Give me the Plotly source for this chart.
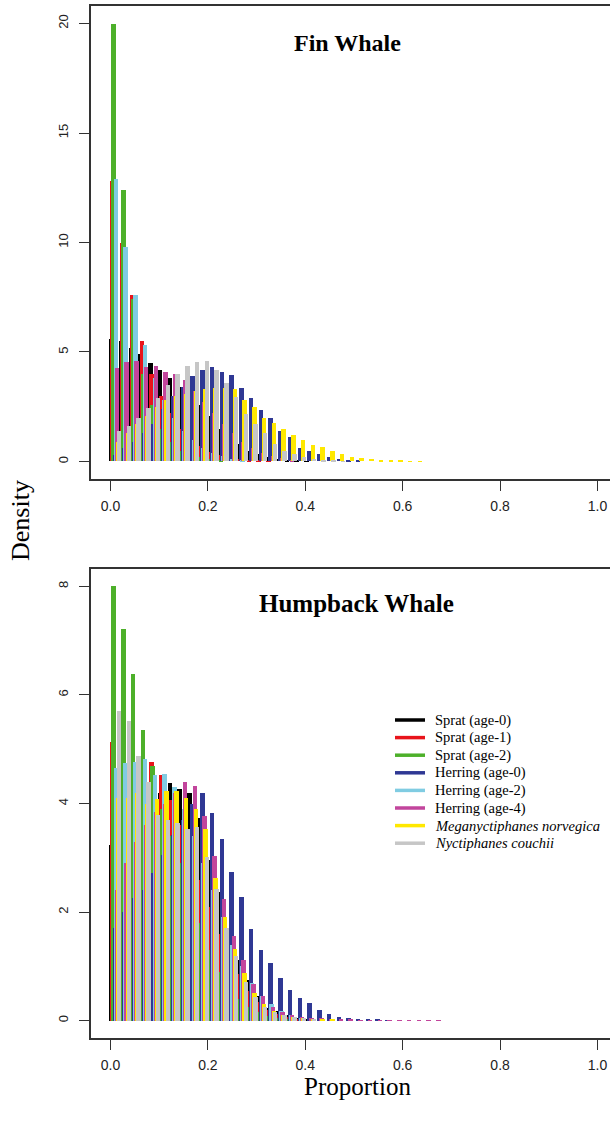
import plotly.graph_objects as go

# ---------------- data ----------------
BINS = [0.00, 0.02, 0.04, 0.06, 0.08, 0.10, 0.12, 0.14, 0.16, 0.18,
        0.20, 0.22, 0.24, 0.26, 0.28, 0.30, 0.32, 0.34, 0.36, 0.38,
        0.40, 0.42, 0.44, 0.46, 0.48, 0.50, 0.52, 0.54, 0.56, 0.58,
        0.60, 0.62, 0.64, 0.66]

SERIES = ["Sprat (age-0)", "Sprat (age-1)", "Sprat (age-2)", "Herring (age-0)",
          "Herring (age-2)", "Herring (age-4)", "<i>Meganyctiphanes norvegica</i>",
          "<i>Nyctiphanes couchii</i>"]
COLORS = ["#000000", "#E8141B", "#4DB02A", "#2F3894", "#80CCE2", "#C2459C", "#FFE800", "#C6C6C6"]

# Fin whale densities
FIN_SPRAT0 = [5.6, 5.5, 5.2, 4.9, 4.5, 4.2, 3.8, 3.4, 3.0, 2.6, 2.1, 1.5, 1.1, 0.8, 0.5, 0.33, 0.2, 0.12, 0.07, 0.04, 0.02]
FIN_SPRAT1 = [12.8, 10.0, 7.6, 5.5, 4.0, 3.0, 2.2, 1.5, 1.0, 0.7, 0.45, 0.3, 0.2, 0.12, 0.07, 0.04, 0.02]
FIN_SPRAT2 = [20.0, 12.4, 7.4, 4.0, 2.6, 1.5, 0.9, 0.5, 0.3, 0.2, 0.1, 0.05]
FIN_HERR0 = [0.3, 0.6, 0.9, 1.3, 1.7, 2.4, 3.0, 3.4, 3.9, 4.2, 4.3, 4.1, 3.95, 3.35, 2.9, 2.35, 2.0, 1.4, 1.1, 0.62, 0.5, 0.32, 0.2, 0.12, 0.06, 0.03]
FIN_HERR2 = [12.9, 9.8, 7.6, 5.3, 3.8, 2.8, 2.0, 1.4, 1.0, 0.6, 0.4, 0.25, 0.12, 0.06]
FIN_HERR4 = [4.26, 4.53, 4.6, 4.3, 4.34, 4.1, 4.0, 3.7, 3.2, 2.7, 2.2, 1.7, 1.3, 0.9, 0.6, 0.4, 0.25, 0.15, 0.08]
FIN_MEGA = [0.9, 1.3, 1.7, 2.1, 2.5, 2.8, 3.0, 3.1, 3.2, 3.3, 3.35, 3.35, 3.3, 2.8, 2.5, 2.0, 1.78, 1.5, 1.23, 1.0,
            0.77, 0.64, 0.5, 0.33, 0.22, 0.14, 0.1, 0.06, 0.04, 0.03, 0.02, 0.01]
FIN_NYCT = [1.37, 1.6, 1.98, 2.43, 2.9, 3.5, 4.0, 4.38, 4.56, 4.6, 4.2, 3.58, 2.94, 2.16, 1.7, 1.29, 0.79, 0.5, 0.33, 0.2, 0.12, 0.07, 0.04, 0.02]

# Humpback whale densities
HB_SPRAT0 = [3.24, 3.3, 3.5, 3.7, 3.9, 4.19, 4.37, 4.26, 4.2, 3.73, 2.96, 2.37, 1.64, 1.12, 0.75, 0.45, 0.23, 0.17, 0.1, 0.05, 0.03]
HB_SPRAT1 = [5.13, 4.9, 4.9, 4.85, 4.77, 4.52, 4.06, 3.6, 3.1, 2.6, 2.1, 1.6, 1.2, 0.85, 0.55, 0.35, 0.2, 0.12, 0.06, 0.03]
HB_SPRAT2 = [8.0, 7.21, 6.38, 5.35, 4.69, 3.9, 3.4, 2.9, 2.3, 1.8, 1.3, 0.9, 0.6, 0.4, 0.25, 0.15, 0.08, 0.04, 0.02]
HB_HERR0 = [1.7, 2.0, 2.26, 2.4, 2.72, 3.05, 3.42, 3.7, 4.0, 4.2, 3.82, 3.34, 2.74, 2.27, 1.69, 1.3, 1.06, 0.78, 0.56, 0.42,
            0.32, 0.2, 0.12, 0.07, 0.04, 0.03, 0.02, 0.02, 0.01]
HB_HERR2 = [4.65, 4.75, 4.77, 4.82, 4.52, 4.54, 4.31, 3.9, 3.4, 2.9, 2.4, 1.9, 1.4, 1.0, 0.7, 0.45, 0.3, 0.18, 0.1, 0.05]
HB_HERR4 = [2.4, 2.9, 3.3, 3.6, 3.85, 4.0, 4.2, 4.4, 4.33, 3.77, 3.03, 2.24, 1.56, 1.12, 0.67, 0.45, 0.26, 0.16, 0.1, 0.07,
            0.05, 0.04, 0.03, 0.02, 0.02, 0.01, 0.01, 0.01, 0.01, 0.01, 0.01, 0.01, 0.01, 0.01]
HB_MEGA = [4.1, 4.1, 4.2, 4.0, 4.08, 4.23, 4.23, 4.1, 3.9, 3.53, 2.63, 1.9, 1.32, 0.87, 0.5, 0.3, 0.18, 0.1, 0.06, 0.04, 0.03, 0.02, 0.02]
HB_NYCT = [5.71, 5.52, 4.87, 4.4, 3.79, 3.69, 3.64, 3.53, 3.57, 3.02, 2.42, 1.71, 1.19, 0.72, 0.44, 0.26, 0.16, 0.1, 0.06, 0.04, 0.02]

X_TICKS = [0.0, 0.2, 0.4, 0.6, 0.8, 1.0]
X_TICKTEXT = ["0.0", "0.2", "0.4", "0.6", "0.8", "1.0"]
FIN_YTICKS = [0, 5, 10, 15, 20]
HB_YTICKS = [0, 2, 4, 6, 8]

FIN = [FIN_SPRAT0, FIN_SPRAT1, FIN_SPRAT2, FIN_HERR0, FIN_HERR2, FIN_HERR4, FIN_MEGA, FIN_NYCT]
HB = [HB_SPRAT0, HB_SPRAT1, HB_SPRAT2, HB_HERR0, HB_HERR2, HB_HERR4, HB_MEGA, HB_NYCT]

# ---------------- layout geometry ----------------
W, H = 610, 1122
ML, MR, MT, MB = 91, 0, 6, 84
PW = W - ML - MR
PH = H - MT - MB
STEP = 0.00225   # offset between series within a bin
BW = 0.0092      # bar width
BASE = 0.002


def py(p):
    return (H - MB - p) / PH


def pxx(p):
    return (p - ML) / PW


fig = go.Figure()
for vals_list, xa, ya in [(FIN, "x", "y"), (HB, "x2", "y2")]:
    for k, vals in enumerate(vals_list):
        fig.add_trace(go.Bar(
            x=BINS[:len(vals)], y=vals, width=BW, offset=BASE + k * STEP - BW / 2,
            marker=dict(color=COLORS[k], line=dict(width=0)),
            xaxis=xa, yaxis=ya, showlegend=False, name=SERIES[k]))

AX = "#333333"
xcommon = dict(range=[-0.04, 1.0257], tickvals=X_TICKS, ticktext=X_TICKTEXT,
               ticks="outside", ticklen=10, tickwidth=1.2, tickcolor=AX,
               showline=True, linecolor=AX, linewidth=1.5, mirror=True,
               showgrid=False, zeroline=False, ticklabelstandoff=3,
               tickfont=dict(family="Liberation Sans", size=14, color="#222222"))
ycommon = dict(ticks="outside", ticklen=10, tickwidth=1.2, tickcolor=AX,
               showline=True, linecolor=AX, linewidth=1.5, mirror=False,
               showgrid=False, zeroline=False, tickangle=-90, ticklabelstandoff=6,
               tickfont=dict(family="Liberation Sans", size=13, color="#222222"))

fig.update_layout(
    width=W, height=H, margin=dict(l=ML, r=MR, t=MT, b=MB),
    paper_bgcolor="white", plot_bgcolor="white", barmode="overlay", bargap=0,
    xaxis=dict(domain=[0, 1], anchor="y", **xcommon),
    yaxis=dict(domain=[py(479), 1], anchor="x", range=[-0.8, 20.8], tickvals=FIN_YTICKS, **ycommon),
    xaxis2=dict(domain=[0, 1], anchor="y2", **xcommon),
    yaxis2=dict(domain=[0, py(569)], anchor="x2", range=[-0.32, 8.32], tickvals=HB_YTICKS, **ycommon),
)

ann = []
serif = "Liberation Serif"
common = dict(xref="paper", yref="paper", showarrow=False, xanchor="center", yanchor="middle")
ann.append(dict(text="<b>Fin Whale</b>", x=pxx(347), y=py(43),
                font=dict(family=serif, size=24, color="#000"), **common))
ann.append(dict(text="<b>Humpback Whale</b>", x=pxx(356), y=py(604),
                font=dict(family=serif, size=25, color="#000"), **common))
ann.append(dict(text="Density", x=pxx(20), y=py(521), textangle=-90,
                font=dict(family=serif, size=26, color="#000"), **common))
ann.append(dict(text="Proportion", x=pxx(357), y=py(1086),
                font=dict(family=serif, size=25, color="#000"), **common))

shapes = []
for i, (name, col) in enumerate(zip(SERIES, COLORS)):
    yy = py(720 + 17.6 * i)
    shapes.append(dict(type="line", xref="paper", yref="paper", x0=pxx(395), x1=pxx(425),
                       y0=yy, y1=yy, line=dict(color=col, width=3.5)))
    ann.append(dict(text=name, x=pxx(433), y=yy, xref="paper", yref="paper", xanchor="left",
                    yanchor="middle", showarrow=False,
                    font=dict(family=serif, size=14.5, color="#000")))

fig.update_layout(annotations=ann, shapes=shapes)
fig.write_html("out.html", config={"displayModeBar": False},
               post_script="document.body.style.margin='0';document.body.style.overflow='hidden';")
